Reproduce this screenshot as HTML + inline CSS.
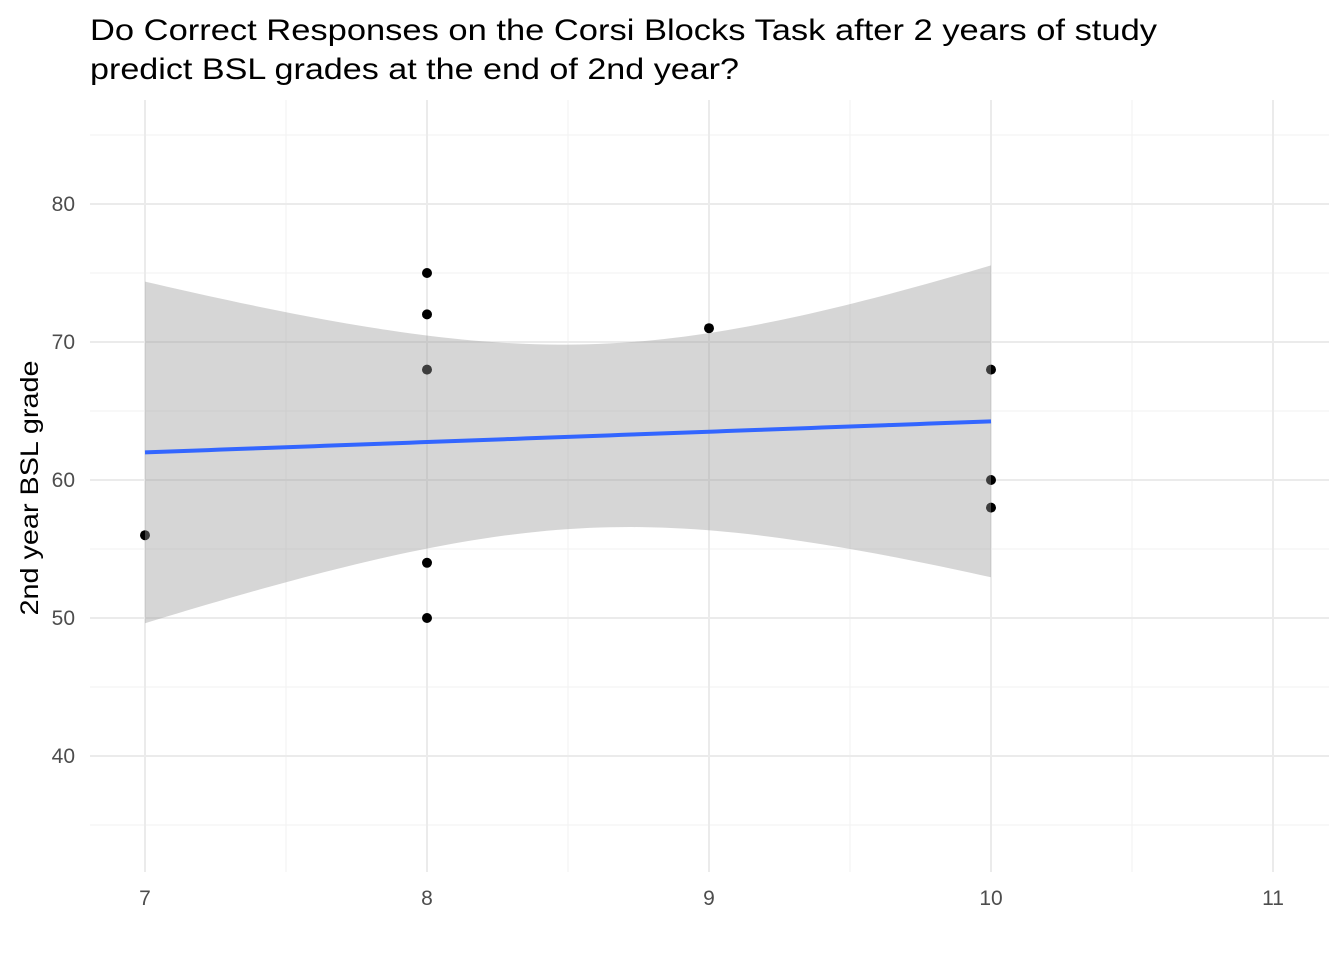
<!DOCTYPE html>
<html><head><meta charset="utf-8">
<style>
html,body{margin:0;padding:0;background:#fff;}
svg text{font-family:"Liberation Sans",Arial,sans-serif;}
</style></head>
<body>
<svg id="chart" width="1344" height="960" viewBox="0 0 1344 960" xmlns="http://www.w3.org/2000/svg">
<text x="90" y="40" font-size="30" fill="#000" textLength="1067" lengthAdjust="spacingAndGlyphs">Do Correct Responses on the Corsi Blocks Task after 2 years of study</text>
<text x="90" y="79" font-size="30" fill="#000" textLength="649" lengthAdjust="spacingAndGlyphs">predict BSL grades at the end of 2nd year?</text>
<text transform="translate(38,488) rotate(-90)" text-anchor="middle" font-size="25" fill="#000" textLength="255" lengthAdjust="spacingAndGlyphs">2nd year BSL grade</text>
<g id="grid"></g><g id="pts"></g><g id="fit"></g><g id="ticks"></g>
</svg>
<script>
const xs = [7, 8, 8, 8, 8, 8, 9, 10, 10, 10];
const ys = [56, 75, 72, 68, 54, 50, 71, 68, 60, 58];
const xTicks = [7, 8, 9, 10, 11];
const yTicks = [40, 50, 60, 70, 80];
const xMinor = [7.5, 8.5, 9.5, 10.5];
const yMinor = [35, 45, 55, 65, 75, 85];

const NS = "http://www.w3.org/2000/svg";
const L = 90, R = 1329, T = 100, B = 872;
const X = v => 145 + (v - 7) * 282;
const Y = v => 204 + (80 - v) * 13.8;
function mk(tag, attrs, parent) {
  const e = document.createElementNS(NS, tag);
  for (const k in attrs) e.setAttribute(k, attrs[k]);
  parent.appendChild(e); return e;
}
const grid = document.getElementById('grid');
xMinor.forEach(v => { const l = mk('line', {x1: X(v), x2: X(v), y1: T, y2: B, stroke: '#f2f2f2', 'stroke-width': 1.1}, grid);
    });
yMinor.forEach(v => { const l = mk('line', {x1: L, x2: R, y1: Y(v), y2: Y(v), stroke: '#f2f2f2', 'stroke-width': 1.1}, grid);
    });
xTicks.forEach(v => { const l = mk('line', {x1: X(v), x2: X(v), y1: T, y2: B, stroke: '#ebebeb', 'stroke-width': 2}, grid);
    });
yTicks.forEach(v => { const l = mk('line', {x1: L, x2: R, y1: Y(v), y2: Y(v), stroke: '#ebebeb', 'stroke-width': 2}, grid);
    });

const pts = document.getElementById('pts');
xs.forEach((x, i) => { const c = mk('circle', {cx: X(x), cy: Y(ys[i]), r: 5, fill: '#000'}, pts);
    });

const n = xs.length;
const xm = xs.reduce((a, b) => a + b) / n, ym = ys.reduce((a, b) => a + b) / n;
let sxy = 0, sxx = 0;
xs.forEach((x, i) => { sxy += (x - xm) * (ys[i] - ym); sxx += (x - xm) ** 2; });
const b1 = sxy / sxx, b0 = ym - b1 * xm;
let sse = 0; xs.forEach((x, i) => { sse += (ys[i] - b0 - b1 * x) ** 2; });
const s = Math.sqrt(sse / (n - 2)), t = 2.306;
const xmin = Math.min(...xs), xmax = Math.max(...xs);
const up = [], lo = [], mid = [];
for (let k = 0; k <= 80; k++) {
  const x = xmin + (xmax - xmin) * k / 80;
  const f = b0 + b1 * x, h = t * s * Math.sqrt(1 / n + (x - xm) ** 2 / sxx);
  up.push(X(x) + ',' + Y(f + h)); lo.push(X(x) + ',' + Y(f - h)); mid.push(X(x) + ',' + Y(f));
}
const fit = document.getElementById('fit');
const rib = mk('polygon', {points: up.concat(lo.reverse()).join(' '), fill: '#999999', 'fill-opacity': 0.4}, fit);
 
const ln = mk('polyline', {points: mid.join(' '), fill: 'none', stroke: '#3366FF', 'stroke-width': 4}, fit);
 

const tk = document.getElementById('ticks');
xTicks.forEach(v => { const e = mk('text', {x: X(v), y: 905, 'text-anchor': 'middle', 'font-size': 21, fill: '#4d4d4d'}, tk);
  e.textContent = v;   });
yTicks.forEach(v => { const e = mk('text', {x: 75, y: Y(v) + 7, 'text-anchor': 'end', 'font-size': 21, fill: '#4d4d4d'}, tk);
  e.textContent = v;   });
</script>
</body></html>
